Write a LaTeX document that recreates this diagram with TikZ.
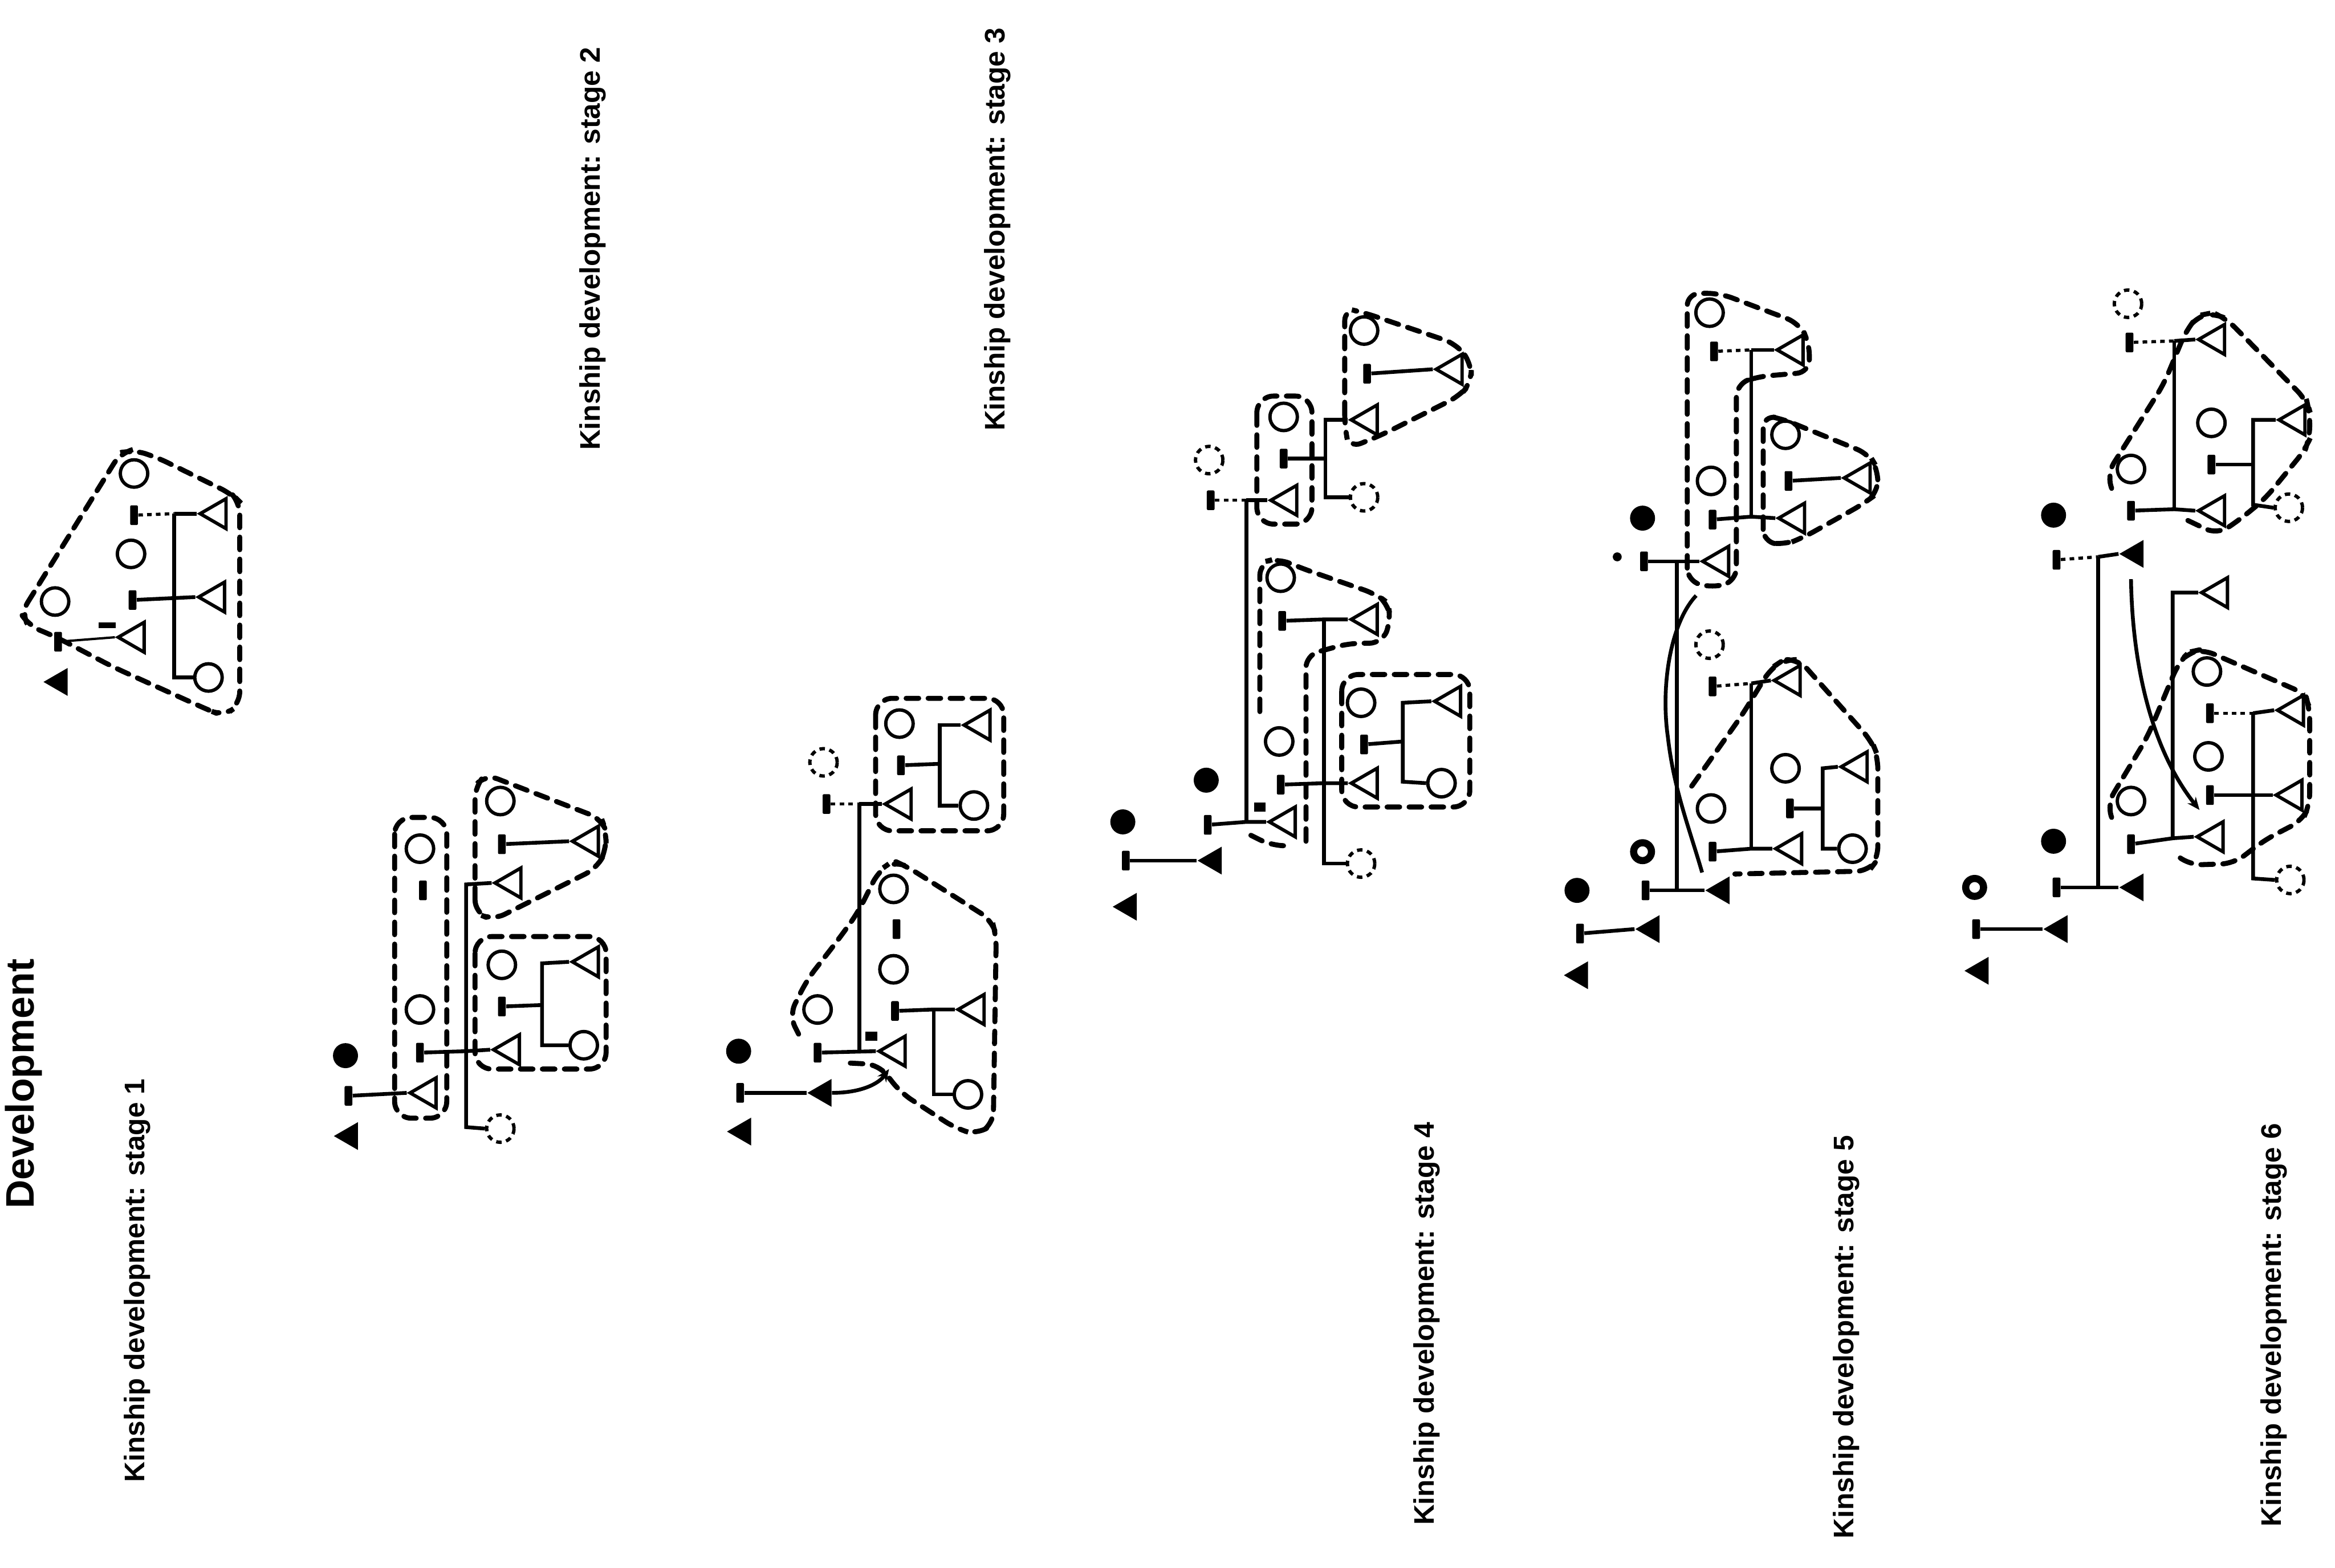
\documentclass[tikz,border=0pt]{standalone}
\usepackage{fontspec}
\setsansfont{Liberation Sans}
\usetikzlibrary{shapes.geometric,arrows.meta}

\begin{document}
\begin{tikzpicture}[
    x=0.025cm, y=-0.025cm,
    fem/.style={circle, draw, line width=1.6pt, minimum size=0.46cm, inner sep=0pt},
    femdash/.style={fem, dash pattern=on 2.6pt off 2.2pt},
    femfill/.style={circle, fill, minimum size=0.42cm, inner sep=0pt},
    ring/.style={circle, draw, line width=3.4pt, minimum size=0.3cm, inner sep=0pt},
    masc/.style={regular polygon, regular polygon sides=3, shape border rotate=90,
        draw, line width=1.6pt, minimum size=0.58cm, inner sep=0pt},
    mascfill/.style={regular polygon, regular polygon sides=3, shape border rotate=90,
        fill, minimum size=0.54cm, inner sep=0pt},
    marr/.style={rectangle, fill, minimum width=0.13cm, minimum height=0.33cm, inner sep=0pt, rounded corners=0.6pt},
    bit/.style={rectangle, fill, minimum width=0.2cm, minimum height=0.15cm, inner sep=0pt},
    desc/.style={line width=1.8pt},
    descdot/.style={line width=1.5pt, dash pattern=on 2.2pt off 2pt},
    grp/.style={line width=2.4pt, dash pattern=on 6pt off 4.5pt, line cap=round, rounded corners=6pt},
    stagelabel/.style={rotate=90, font=\sffamily\bfseries\fontsize{13.5}{15}\selectfont},
]
\path[use as bounding box, fill=white] (0,0) rectangle (1568,1053);

% Titre et étiquettes
\node[rotate=90, font=\sffamily\bfseries\fontsize{19}{21}\selectfont] (titre) at (16,728) {Development};
\node[stagelabel] (lab1) at (92,860) {Kinship development: stage 1};
\node[stagelabel] (lab2) at (398,167) {Kinship development: stage 2};
\node[stagelabel] (lab3) at (670,154) {Kinship development: stage 3};
\node[stagelabel] (lab4) at (958,889) {Kinship development: stage 4};
\node[stagelabel] (lab5) at (1240,898) {Kinship development: stage 5};
\node[stagelabel] (lab6) at (1527,890) {Kinship development: stage 6};

% Étape 1
\node[fem] (f1a) at (90,318) {};
\node[marr] (m1a) at (90,346) {};
\node[fem] (f1b) at (88,372) {};
\node[marr] (m1b) at (89,403) {};
\node[fem] (f1c) at (37,404) {};
\node[marr] (m1c) at (39,431) {};
\node[fem] (f1d) at (140,455) {};
\node[masc] (t1a) at (146,345) {};
\node[masc] (t1b) at (145,401) {};
\node[masc] (t1c) at (91,428) {};
\node[mascfill] (e1a) at (40,458) {};
\node[bit, minimum width=0.28cm, minimum height=0.1cm] (b1) at (72,420) {};
\coordinate (v1a) at (117,345);
\coordinate (v1b) at (117,455);
\draw[descdot] (m1a) -- (v1a);
\draw[desc] (v1a) -- (t1a.west);
\draw[desc] (v1a) -- (v1b) -- (f1d.west);
\draw[desc] (m1b) -- (t1b.west);
\draw[line width=1.1pt] (m1c) -- (t1c.west);
\draw[grp] (14,412) -- (81,304) -- (89,302) -- (105,307) -- (156,332) -- (161,337) -- (161,473) -- (150,481)
    -- (138,476) -- (76,448) -- (38,428) -- (19,420) -- cycle;

% Étape 2
\node[femfill] (e2a) at (232,709) {};
\node[marr] (m2a) at (234,736) {};
\node[mascfill] (e2b) at (235,763) {};
\node[masc] (t2a) at (287,734) {};
\draw[desc] (m2a) -- (t2a.west);
\node[fem] (f2a) at (282,570) {};
\node[marr] (m2b) at (284,598) {};
\node[fem] (f2b) at (282,678) {};
\node[marr] (m2c) at (282,707) {};
\coordinate (v2a) at (313,594);
\coordinate (v2b) at (313,706);
\coordinate (v2c) at (313,757);
\node[masc] (t2b) at (344,593) {};
\node[masc] (t2c) at (343,705) {};
\node[femdash] (f2c) at (336,758) {};
\draw[desc] (m2c) -- (v2b) -- (t2c.west);
\draw[desc] (t2b.west) -- (v2a) -- (v2c) -- (f2c.west);
\draw[grp, rounded corners=8pt] (265,549) rectangle (300,751);
\node[fem] (f2d) at (336,538) {};
\node[marr] (m2d) at (337,567) {};
\node[masc] (t2d) at (396,565) {};
\draw[desc] (m2d) -- (t2d.west);
\draw[grp] (319,613) -- (319,528) -- (326,520) -- (404,550) -- (407,558) -- (407,571) -- (401,583) -- (331,618) -- cycle;
\node[fem] (f2e) at (337,648) {};
\node[marr] (m2e) at (337,676) {};
\coordinate (s2a) at (364,647);
\coordinate (s2b) at (364,675);
\coordinate (s2c) at (364,702);
\node[masc] (t2e) at (396,646) {};
\node[fem] (f2f) at (392,702) {};
\draw[desc] (m2e) -- (s2b);
\draw[desc] (t2e.west) -- (s2a) -- (s2c) -- (f2f.west);
\draw[grp, rounded corners=8pt] (319,629) rectangle (407,718);

% Étape 3
\node[femfill] (e3a) at (496,706) {};
\node[marr] (m3a) at (497,734) {};
\node[mascfill] (e3b) at (499,760) {};
\node[mascfill] (e3c) at (553,734) {};
\draw[desc] (m3a) -- (e3c.west);
\coordinate (a3) at (597,718);
\draw[desc, -{Stealth[length=6pt,width=5pt]}] (e3c.east) .. controls (578,734) and (590,728) .. (a3);
\node[fem] (f3a) at (549,678) {};
\node[marr] (m3b) at (549,707) {};
\node[masc] (t3b) at (602,706) {};
\coordinate (v3a) at (577,540);
\coordinate (v3b) at (577,705);
\draw[desc] (m3b) -- (t3b.west);
\draw[desc] (v3a) -- (v3b);
\node[masc] (t3a) at (606,540) {};
\draw[desc] (v3a) -- (t3a.west);
\node[femdash] (f3x) at (553,512) {};
\node[marr] (m3c) at (555,540) {};
\draw[descdot] (m3c) -- (v3a);
\node[bit] (b3) at (585,696) {};
\node[fem] (f3b) at (604,486) {};
\node[marr] (m3d) at (605,514) {};
\coordinate (s3a) at (631,487);
\coordinate (s3b) at (631,513);
\coordinate (s3c) at (631,541);
\node[masc] (t3c) at (659,487) {};
\node[fem] (f3c) at (654,541) {};
\draw[desc] (m3d) -- (s3b);
\draw[desc] (t3c.west) -- (s3a) -- (s3c) -- (f3c.west);
\draw[grp, rounded corners=8pt] (588,469) rectangle (674,558);
\node[fem] (f3d) at (600,597) {};
\node[marr] (m3e) at (602,624) {};
\node[fem] (f3e) at (600,651) {};
\node[marr] (m3f) at (601,679) {};
\coordinate (s3d) at (627,678);
\coordinate (s3e) at (627,735);
\node[masc] (t3d) at (655,678) {};
\node[fem] (f3f) at (650,735) {};
\draw[desc] (m3f) -- (s3d) -- (t3d.west);
\draw[desc] (s3d) -- (s3e) -- (f3f.west);
\draw[grp] (571,714) -- (590,715) -- (605,734) -- (642,758) -- (656,762) -- (667,755) -- (669,628) -- (666,618)
    -- (609,582) -- (600,578) -- (590,585) -- (576,613) -- (563,631) -- (542,658) -- (530,682) -- (537,696);

% Étape 4
\node[femfill] (e4a) at (754,552) {};
\node[marr] (m4a) at (756,578) {};
\node[mascfill] (e4b) at (758,609) {};
\node[mascfill] (e4c) at (815,578) {};
\draw[desc] (m4a) -- (e4c.west);
\node[femfill] (e4d) at (810,524) {};
\node[marr] (m4b) at (811,554) {};
\coordinate (v4a) at (837,336);
\coordinate (v4b) at (837,552);
\node[masc] (t4a) at (864,552) {};
\draw[desc] (m4b) -- (v4b) -- (t4a.west);
\draw[desc] (v4a) -- (v4b);
\node[masc] (t4b) at (865,336) {};
\draw[desc] (v4a) -- (t4b.west);
\node[femdash] (f4x) at (812,309) {};
\node[marr] (m4c) at (813,336) {};
\draw[descdot] (m4c) -- (v4a);
\node[bit] (b4) at (846,542) {};
\draw[grp] (840,561) -- (854,568) -- (868,568);
\node[fem] (f4a) at (862,280) {};
\node[marr] (m4d) at (862,308) {};
\coordinate (s4a) at (890,282);
\coordinate (s4b) at (890,308);
\coordinate (s4c) at (890,334);
\node[masc] (t4c) at (919,282) {};
\node[femdash] (f4b) at (916,334) {};
\draw[desc] (m4d) -- (s4b);
\draw[desc] (t4c.west) -- (s4a) -- (s4c) -- (f4b.west);
\draw[grp, rounded corners=8pt] (844,266) rectangle (881,352);
\node[fem] (f4c) at (916,222) {};
\node[marr] (m4e) at (918,251) {};
\node[masc] (t4d) at (976,248) {};
\draw[desc] (m4e) -- (t4d.west);
\draw[grp] (903,287) -- (903,207) -- (916,210) -- (978,231) -- (988,244) -- (988,257) -- (980,266) -- (928,292) -- (906,301) -- cycle;
\node[fem] (f4d) at (860,388) {};
\node[marr] (m4f) at (861,417) {};
\coordinate (s4d) at (889,416);
\coordinate (s4e) at (889,526);
\coordinate (s4f) at (889,580);
\node[masc] (t4e) at (919,416) {};
\node[masc] (t4f) at (919,526) {};
\node[femdash] (f4e) at (914,580) {};
\draw[desc] (m4f) -- (s4d) -- (t4e.west);
\draw[desc] (s4d) -- (s4f) -- (f4e.west);
\node[fem] (f4f) at (859,498) {};
\node[marr] (m4g) at (860,527) {};
\draw[desc] (m4g) -- (s4e) -- (t4f.west);
\draw[grp] (877,565) -- (877,440) -- (906,432) -- (928,432) -- (934,417) -- (932,405) -- (924,399) -- (875,382)
    -- (858,375) -- (846,378) -- (846,481);
\node[fem] (f4g) at (914,472) {};
\node[marr] (m4h) at (916,500) {};
\coordinate (s4g) at (942,472);
\coordinate (s4h) at (942,498);
\coordinate (s4i) at (942,525);
\node[masc] (t4g) at (975,471) {};
\node[fem] (f4h) at (968,526) {};
\draw[desc] (m4h) -- (s4h);
\draw[desc] (t4g.west) -- (s4g) -- (s4i) -- (f4h.west);
\draw[grp, rounded corners=8pt] (901,453) rectangle (987,542);

% Étape 5
\node[femfill] (e5a) at (1059,598) {};
\node[marr] (m5a) at (1061,627) {};
\node[mascfill] (e5b) at (1061,655) {};
\node[mascfill] (e5c) at (1109,624) {};
\draw[desc] (m5a) -- (e5c.west);
\node[ring] (r5) at (1103,572) {};
\node[marr] (m5b) at (1105,598) {};
\coordinate (v5a) at (1126,377);
\coordinate (v5b) at (1126,598);
\node[mascfill] (e5d) at (1156,598) {};
\draw[desc] (m5b) -- (v5b) -- (e5d.west);
\draw[desc] (v5a) -- (v5b);
\node[femfill] (e5e) at (1103,348) {};
\node[marr] (m5c) at (1104,377) {};
\node[circle, fill, inner sep=0pt, minimum size=0.15cm] (d5) at (1086,374) {};
\node[masc] (t5a) at (1155,377) {};
\draw[desc] (m5c) -- (v5a) -- (t5a.west);
\coordinate (c5a) at (1139,400);
\coordinate (c5m) at (1120,495);
\coordinate (c5b) at (1143,586);
\draw[desc] (c5a) .. controls (1122,418) and (1115,460) .. (c5m) .. controls (1124,530) and (1134,555) .. (c5b);
\node[fem] (f5a) at (1148,210) {};
\node[marr] (m5d) at (1151,236) {};
\coordinate (s5a) at (1176,235);
\coordinate (s5b) at (1176,347);
\node[masc] (t5b) at (1205,235) {};
\node[fem] (f5b) at (1149,323) {};
\node[marr] (m5e) at (1150,349) {};
\node[masc] (t5c) at (1206,348) {};
\draw[descdot] (m5d) -- (s5a);
\draw[desc] (s5a) -- (t5b.west);
\draw[desc] (s5a) -- (s5b);
\draw[desc] (m5e) -- (s5b) -- (t5c.west);
\draw[grp] (1133,390) -- (1133,197) -- (1155,197) -- (1208,217) -- (1215,230) -- (1215,250) -- (1180,253) -- (1166,258)
    -- (1166,390) -- (1150,395) -- cycle;
\node[fem] (f5c) at (1199,292) {};
\node[marr] (m5f) at (1201,323) {};
\node[masc] (t5d) at (1250,321) {};
\draw[desc] (m5f) -- (t5d.west);
\draw[grp] (1184,364) -- (1184,279) -- (1196,281) -- (1255,305) -- (1261,315) -- (1261,331) -- (1252,338) -- (1211,361) -- (1198,366) -- cycle;
\node[femdash] (f5x) at (1148,433) {};
\node[marr] (m5g) at (1150,461) {};
\coordinate (s5c) at (1176,459);
\coordinate (s5d) at (1176,570);
\node[masc] (t5e) at (1203,457) {};
\node[fem] (f5d) at (1149,543) {};
\node[marr] (m5h) at (1150,572) {};
\node[masc] (t5f) at (1204,570) {};
\draw[descdot] (m5g) -- (s5c);
\draw[desc] (s5c) -- (t5e.west);
\draw[desc] (s5c) -- (s5d);
\draw[desc] (m5h) -- (s5d) -- (t5f.west);
\node[fem] (f5e) at (1199,516) {};
\node[marr] (m5i) at (1202,543) {};
\coordinate (s5e) at (1224,516);
\coordinate (s5f) at (1224,543);
\coordinate (s5g) at (1224,570);
\node[masc] (t5g) at (1248,515) {};
\node[fem] (f5f) at (1244,570) {};
\draw[desc] (m5i) -- (s5f);
\draw[desc] (t5g.west) -- (s5e) -- (s5g) -- (f5f.west);
\draw[grp] (1136,528) -- (1170,480) -- (1189,449) -- (1198,443) -- (1208,443) -- (1257,498) -- (1261,508) -- (1261,577)
    -- (1255,585) -- (1165,587);

% Étape 6
\node[ring] (r6) at (1326,596) {};
\node[marr] (m6a) at (1327,624) {};
\node[mascfill] (e6a) at (1330,652) {};
\node[mascfill] (e6b) at (1383,624) {};
\draw[desc] (m6a) -- (e6b.west);
\node[femfill] (e6c) at (1379,565) {};
\node[marr] (m6b) at (1381,596) {};
\coordinate (v6a) at (1409,374);
\coordinate (v6b) at (1409,596);
\node[mascfill] (e6d) at (1434,596) {};
\draw[desc] (m6b) -- (v6b) -- (e6d.west);
\draw[desc] (v6a) -- (v6b);
\node[femfill] (e6e) at (1379,346) {};
\node[marr] (m6c) at (1381,376) {};
\node[mascfill] (e6f) at (1434,372) {};
\draw[descdot] (m6c) -- (v6a);
\draw[desc] (v6a) -- (e6f.west);
\coordinate (c6a) at (1431,389);
\coordinate (c6b) at (1477,544);
\draw[desc, -{Stealth[length=6pt,width=5pt]}] (c6a) .. controls (1432,450) and (1446,505) .. (c6b);
\coordinate (s6a) at (1459,398);
\coordinate (s6b) at (1459,563);
\node[masc] (t6a) at (1490,398) {};
\node[masc] (t6b) at (1487,562) {};
\node[fem] (f6a) at (1431,538) {};
\node[marr] (m6d) at (1431,567) {};
\draw[desc] (t6a.west) -- (s6a) -- (s6b) -- (t6b.west);
\draw[desc] (m6d) -- (s6b);
\node[fem] (f6b) at (1482,451) {};
\node[marr] (m6e) at (1484,479) {};
\coordinate (s6c) at (1513,479);
\coordinate (s6d) at (1513,534);
\coordinate (s6e) at (1513,590);
\node[masc] (t6c) at (1541,477) {};
\node[fem] (f6c) at (1483,508) {};
\node[marr] (m6f) at (1484,534) {};
\node[masc] (t6d) at (1540,534) {};
\node[femdash] (f6d) at (1538,591) {};
\draw[descdot] (m6e) -- (s6c);
\draw[desc] (s6c) -- (t6c.west);
\draw[desc] (m6f) -- (s6d) -- (t6d.west);
\draw[desc] (s6c) -- (s6e) -- (f6d.west);
\draw[grp] (1418,549) -- (1415,540) -- (1442,495) -- (1463,445) -- (1470,438) -- (1479,436) -- (1548,466) -- (1551,476)
    -- (1551,541) -- (1546,551) -- (1521,564) -- (1500,580) -- (1470,581) -- (1460,573);
\node[femdash] (f6e) at (1429,204) {};
\node[marr] (m6g) at (1430,230) {};
\coordinate (v6c) at (1460,229);
\coordinate (v6d) at (1460,342);
\node[masc] (t6e) at (1488,228) {};
\node[fem] (f6f) at (1431,315) {};
\node[marr] (m6h) at (1431,343) {};
\node[masc] (t6f) at (1488,343) {};
\draw[descdot] (m6g) -- (v6c);
\draw[desc] (v6c) -- (t6e.west);
\draw[desc] (v6c) -- (v6d);
\draw[desc] (m6h) -- (v6d) -- (t6f.west);
\node[fem] (f6g) at (1485,284) {};
\node[marr] (m6i) at (1485,312) {};
\coordinate (s6f) at (1513,282);
\coordinate (s6g) at (1513,312);
\coordinate (s6h) at (1513,339);
\node[masc] (t6g) at (1542,282) {};
\node[femdash] (f6h) at (1537,341) {};
\draw[desc] (m6i) -- (s6g);
\draw[desc] (t6g.west) -- (s6f) -- (s6h) -- (f6h.west);
\draw[grp] (1418,328) -- (1415,318) -- (1453,258) -- (1468,222) -- (1476,212) -- (1486,210) -- (1495,214) -- (1549,269)
    -- (1551,276) -- (1551,295) -- (1548,302) -- (1521,335) -- (1504,349) -- (1489,359) -- (1468,349);

\end{tikzpicture}
\end{document}
